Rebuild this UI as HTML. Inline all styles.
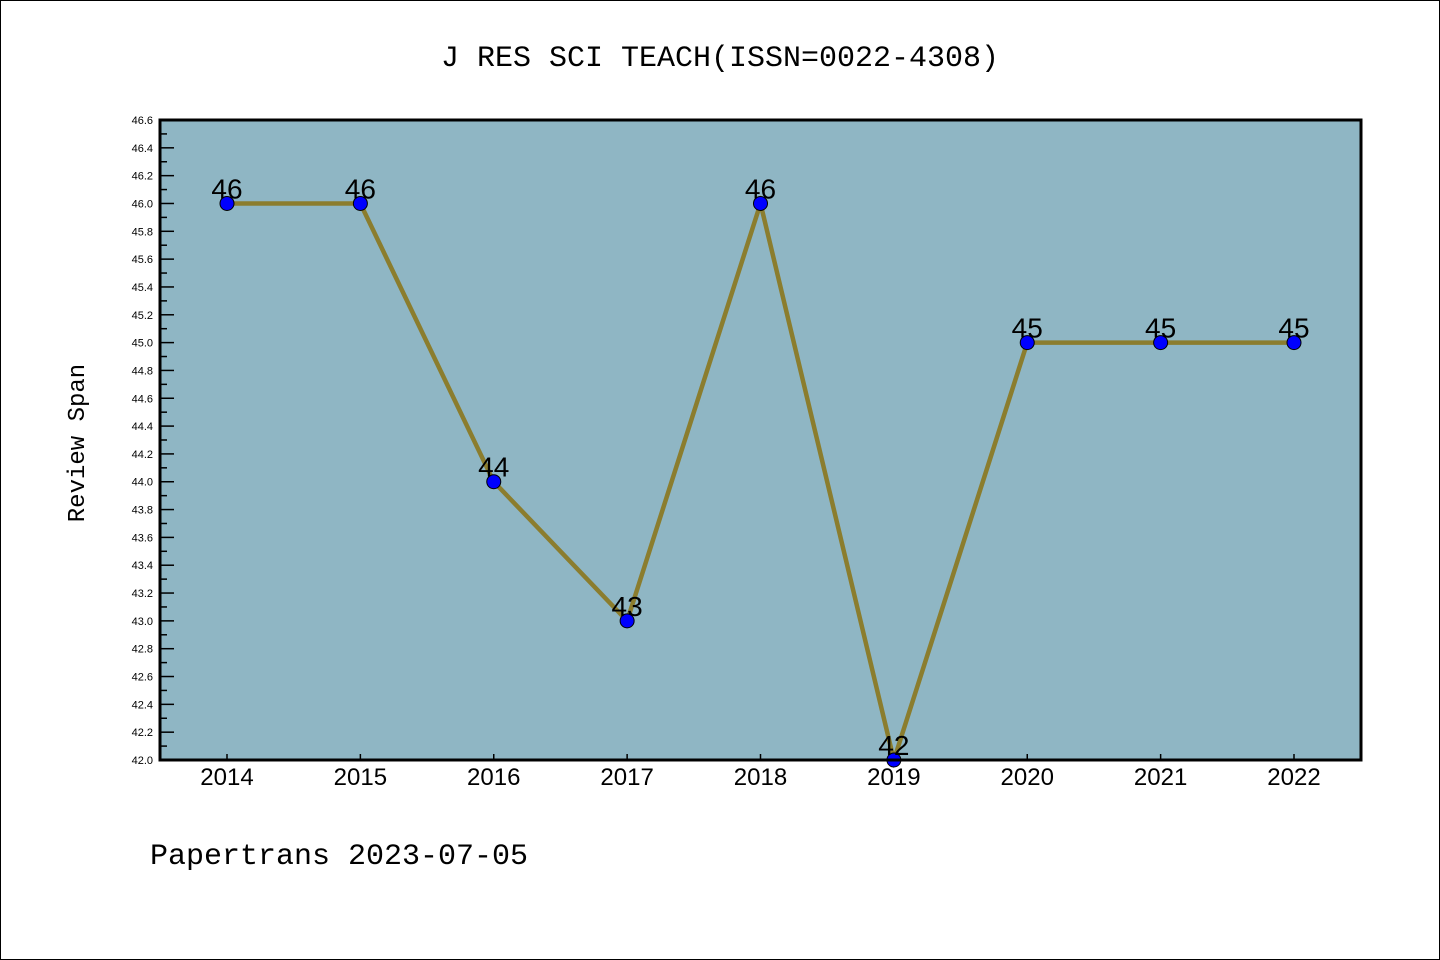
<!DOCTYPE html>
<html><head><meta charset="utf-8"><style>
body{margin:0;background:#fff}
svg{display:block;font-family:"Liberation Sans","DejaVu Sans",sans-serif}
.mono{font-family:"Liberation Mono","DejaVu Sans Mono",monospace}
</style></head><body>
<svg id="chart" width="1440" height="960">
<rect x="0.5" y="0.5" width="1439" height="959" fill="#fff" stroke="#000"/>
<text class="mono" x="720" y="66" font-size="30" text-anchor="middle">J RES SCI TEACH(ISSN=0022-4308)</text>
<text class="mono" x="0" y="0" font-size="24" text-anchor="middle" transform="translate(84,443) rotate(-90)">Review Span</text>
<text class="mono" x="150" y="864" font-size="30">Papertrans 2023-07-05</text>
<rect x="160" y="120" width="1201" height="640" fill="#8fb6c4"/>
<g id="marks"></g>
<rect x="160" y="120" width="1201" height="640" fill="none" stroke="#000" stroke-width="3"/>
</svg>
<script>
const years=["2014","2015","2016","2017","2018","2019","2020","2021","2022"];
const values=[46,46,44,43,46,42,45,45,45];
const yTicks=["42.0","42.2","42.4","42.6","42.8","43.0","43.2","43.4","43.6","43.8","44.0","44.2","44.4","44.6","44.8","45.0","45.2","45.4","45.6","45.8","46.0","46.2","46.4","46.6"];
const NS="http://www.w3.org/2000/svg";
const yMin=42,yMax=46.6,plotTop=120,plotBot=760;
const xs=i=>227+i*(1294-227)/(years.length-1);
const ys=v=>plotBot-(v-yMin)/(yMax-yMin)*(plotBot-plotTop);
const g=document.getElementById('marks');
function mk(t,a){const e=document.createElementNS(NS,t);for(const k in a)e.setAttribute(k,a[k]);g.appendChild(e);return e;}
yTicks.forEach(t=>{const y=ys(+t);
 const l=mk('line',{x1:160,x2:174,y1:y,y2:y,stroke:'#000','stroke-width':1.5});
 
 
 const m=ys(+t+0.1);
 if(+t<yMax-0.01){const ml=mk('line',{x1:160,x2:167,y1:m,y2:m,stroke:'#000','stroke-width':1.5});
 
 }
 const tx=mk('text',{x:153,y:y+4,'font-size':11,'text-anchor':'end'});tx.textContent=t;
 
 
});
years.forEach((yr,i)=>{const x=xs(i);
 const l=mk('line',{x1:x,x2:x,y1:plotBot,y2:plotBot-6,stroke:'#000','stroke-width':1.5});
 
 
 const tx=mk('text',{x:x,y:785,'font-size':24,'text-anchor':'middle'});tx.textContent=yr;
 
 
});
const pl=mk('polyline',{points:values.map((v,i)=>xs(i)+','+ys(v)).join(' '),fill:'none',stroke:'#8b7d2e','stroke-width':4.5});


values.forEach((v,i)=>{
 const c=mk('circle',{cx:xs(i),cy:ys(v),r:7,fill:'#0000ff',stroke:'#000','stroke-width':1});
 
 
 const t=mk('text',{x:xs(i),y:ys(v)-5,'font-size':28,'text-anchor':'middle'});t.textContent=v;
 
 
});
</script>
</body></html>
